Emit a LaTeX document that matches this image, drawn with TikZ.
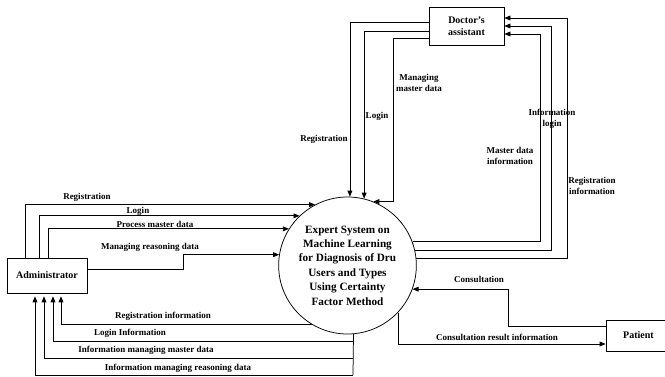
\documentclass[tikz,border=0pt]{standalone}
\usepackage{fontspec}
\setmainfont{Liberation Serif}
\usetikzlibrary{arrows.meta,shapes.geometric}
\begin{document}
\begin{tikzpicture}[x=1pt,y=-1pt,
  box/.style={draw,line width=0.75pt,inner sep=0pt,align=center,font=\bfseries\fontsize{10}{12.5}\selectfont},
  lbl/.style={inner sep=0pt,align=center,font=\bfseries\fontsize{9}{10.5}\selectfont},
  flow/.style={line width=0.75pt,-{Triangle[length=6pt,width=4.8pt]}},
  plain/.style={line width=0.75pt}]
\useasboundingbox (0,0) rectangle (665,377);

% nodes
\node[box,minimum width=80pt,minimum height=35pt] (admin) at (47,275.5) {Administrator};
\node[box,minimum width=75pt,minimum height=38pt] (doc) at (466.5,26) {Doctor’s\\assistant};
\node[box,minimum width=65pt,minimum height=31pt] (pat) at (638.5,335.5) {Patient};
\node[draw,ellipse,line width=0.75pt,inner sep=0pt,minimum width=131pt,minimum height=137pt,
      align=center,font=\bfseries\fontsize{11.2}{14.4}\selectfont] (sys) at (347.5,265.5)
  {Expert System on\\Machine Learning\\for Diagnosis of Dru\\Users and Types\\Using Certainty\\Factor Method};

% Administrator -> system
\draw[flow] ([xshift=-22pt]admin.north) |- (sys.118.65);
\draw[flow] ([xshift=-8pt]admin.north) |- (sys.134.8);
\draw[flow] ([xshift=1pt]admin.north) |- (sys.148.6);
\draw[flow] ([yshift=6.5pt]admin.east) -- ++(96,0) |- (sys.171.7);

\node[lbl] (l1) at (87,197) {Registration};
\node[lbl] (l2) at (138,211) {Login};
\node[lbl] (l3) at (155,224) {Process master data};
\node[lbl] (l4) at (150,247) {Managing reasoning data};

% system -> Administrator
\coordinate (j1) at (353,341);
\coordinate (j2) at (353,358);
\coordinate (j3) at (353,375);
\draw[plain] (sys.-85.4) -- (j3);
\draw[flow,shorten >=3pt] (sys.239.8) -| ([xshift=14pt]admin.south);
\draw[flow,shorten >=3pt] (j1) -| ([xshift=6pt]admin.south);
\draw[flow,shorten >=3pt] (j2) -| ([xshift=-3pt]admin.south);
\draw[flow,shorten >=3pt] (j3) -| ([xshift=-12pt]admin.south);

\node[lbl] (l5) at (163,316) {Registration information};
\node[lbl] (l6) at (130,333) {Login Information};
\node[lbl] (l7) at (146,350) {Information managing master data};
\node[lbl] (l8) at (178,368) {Information managing reasoning data};

% Doctor's assistant -> system
\draw[flow] ([yshift=4pt]doc.west) -| (sys.88.7);
\draw[flow] ([yshift=-5pt]doc.west) -| (sys.76.9);
\draw[flow] ([yshift=-12pt]doc.west) -- ++(-35,0) |- (sys.68.8);

\node[lbl] (l9) at (324,139) {Registration};
\node[lbl] (l10) at (377,116) {Login};
\node[lbl] (l11) at (419,83) {Managing\\master data};

% system -> Doctor's assistant
\draw[flow] (sys.6.57) -- ++(151.4,0) |- ([yshift=8pt]doc.east);
\draw[flow] (sys.13.66) -- ++(136.7,0) |- (doc.east);
\draw[flow] (sys.20.9) -- ++(128,0) |- ([yshift=-8pt]doc.east);

\node[lbl] (l12) at (552,119) {Information\\login};
\node[lbl] (l13) at (510,156) {Master data\\information};
\node[lbl] (l14) at (592,186) {Registration\\information};

% Patient <-> system
\draw[flow] ([yshift=9.5pt]pat.west) -- ++(-97,0) |- (sys.-20);
\draw[flow] (sys.-43.5) |- ([yshift=-8.5pt]pat.west);

\node[lbl] (l15) at (479,279) {Consultation};
\node[lbl] (l16) at (497,337) {Consultation result information};
\end{tikzpicture}
\end{document}
